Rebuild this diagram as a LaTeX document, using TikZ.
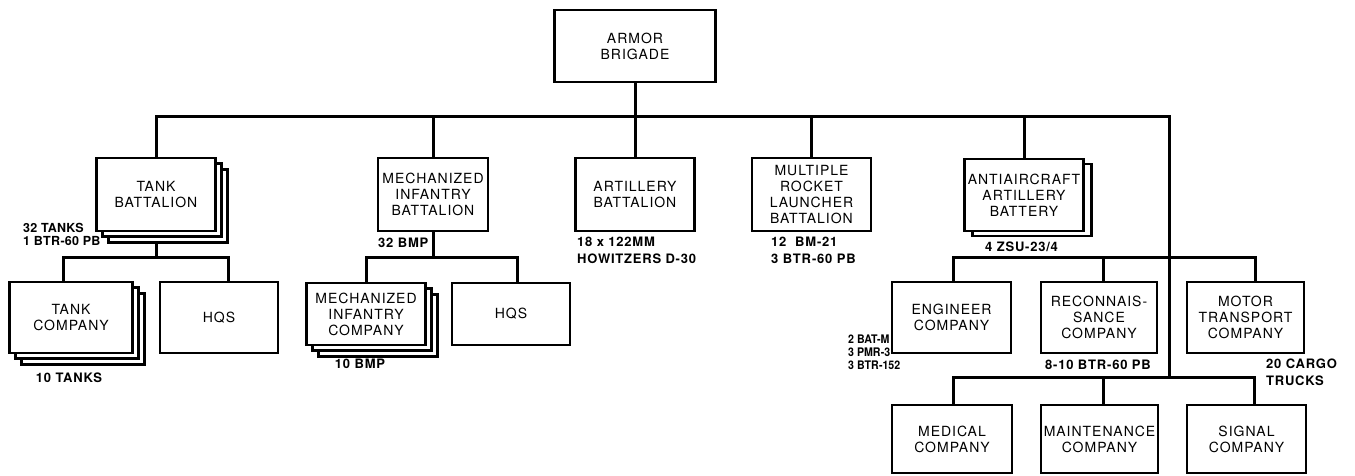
\documentclass[tikz,border=0pt]{standalone}
\usepackage{fontspec}
\setmainfont{TeX Gyre Heros}
\newfontfamily\boxfont[LetterSpace=7]{TeX Gyre Heros}
\newfontfamily\labfont[LetterSpace=6]{TeX Gyre Heros}
\newfontfamily\labfontb[LetterSpace=2]{TeX Gyre Heros}
\newfontfamily\labfontc[FakeStretch=0.9]{TeX Gyre Heros}
\usetikzlibrary{shadows,backgrounds}
\tikzset{
  unit/.style={draw, line width=2.4pt, fill=white, align=center, inner sep=0pt,
    font={\boxfont\fontsize{14}{16}\selectfont},
    minimum width=119pt, minimum height=71pt},
  stacktwo/.style={
    copy shadow={shadow xshift=12pt, shadow yshift=-11.5pt, line width=2.4pt},
    copy shadow={shadow xshift=6pt, shadow yshift=-5.5pt, line width=2.4pt}},
  stackone/.style={copy shadow={shadow xshift=8pt, shadow yshift=-5pt, line width=2.4pt}},
  lab/.style={inner sep=0pt, anchor=north west, align=left,
    font={\labfont\bfseries\fontsize{13}{#1}\selectfont}},
  lab/.default=16,
  wire/.style={line width=3pt},
}
\begin{document}
\begin{tikzpicture}[x=1pt,y=-1pt]
\useasboundingbox (0,0) rectangle (1355,475);

% top
\node[unit, minimum width=161pt, minimum height=72pt] (brig) at (635,46) {ARMOR\\BRIGADE};

% battalions
\node[unit, minimum height=73pt, stacktwo] (tb) at (156,194.5) {TANK\\BATTALION};
\node[unit, minimum width=110pt, minimum height=73pt] (mib) at (433,194.5) {MECHANIZED\\INFANTRY\\BATTALION};
\node[unit, minimum height=73pt] (art) at (635,194.5) {ARTILLERY\\BATTALION};
\node[unit, minimum height=73pt] (mrl) at (811.5,194.5) {MULTIPLE\\ROCKET\\LAUNCHER\\BATTALION};
\node[unit, minimum height=72pt, stackone] (aa) at (1024,195) {ANTIAIRCRAFT\\ARTILLERY\\BATTERY};

% companies under battalions
\node[unit, minimum width=123pt, stacktwo] (tc) at (71,317.5) {TANK\\COMPANY};
\node[unit, minimum width=118pt] (hqa) at (219,317.5) {HQS};
\node[unit, minimum height=62pt, stacktwo] (mic) at (366,314) {MECHANIZED\\INFANTRY\\COMPANY};
\node[unit, minimum width=118pt, minimum height=62pt] (hqb) at (511,314) {HQS};

% brigade companies
\node[unit] (eng) at (951.5,317.5) {ENGINEER\\COMPANY};
\node[unit, minimum width=116pt] (rec) at (1099,317.5) {RECONNAIS-\\SANCE\\COMPANY};
\node[unit, minimum width=117pt] (mot) at (1245.5,317.5) {MOTOR\\TRANSPORT\\COMPANY};
\node[unit, minimum width=120pt, minimum height=68pt] (med) at (952,439) {MEDICAL\\COMPANY};
\node[unit, minimum width=117pt, minimum height=68pt] (mai) at (1099.5,439) {MAINTENANCE\\COMPANY};
\node[unit, minimum height=68pt] (sig) at (1246.5,439) {SIGNAL\\COMPANY};

% connectors
\coordinate (rv) at (1169,116);
\coordinate (rvend) at (1169,377);
\coordinate (tbus) at (156,257);
\coordinate (mbus) at (433,257);
\coordinate (rbus) at (1169,257);
\begin{scope}[on background layer]
\draw[wire] (brig.south) -- (brig.south |- rv);
\draw[wire] (tb.north) |- (rv) -- (rvend);
\draw[wire] (mib.north) -- (mib.north |- rv);
\draw[wire] (art.north) -- (art.north |- rv);
\draw[wire] (mrl.north) -- (mrl.north |- rv);
\draw[wire] (aa.north) -- (aa.north |- rv);

\draw[wire] (tb.south) -- (tbus);
\draw[wire] ([xshift=-8pt]tc.north) |- ([xshift=9pt]hqa.north |- tbus) -- ([xshift=9pt]hqa.north);

\draw[wire] (mib.south) -- (mbus);
\draw[wire] (mic.north) |- ([xshift=6pt]hqb.north |- mbus) -- ([xshift=6pt]hqb.north);

\draw[wire] ([xshift=1.5pt]eng.north) |- ([xshift=9.5pt]mot.north |- rbus) -- ([xshift=9.5pt]mot.north);
\draw[wire] ([xshift=4pt]rec.north) -- ([xshift=4pt]rec.north |- rbus);

\draw[wire] ([xshift=1pt]med.north) |- ([xshift=8pt]sig.north |- rvend) -- ([xshift=8pt]sig.north);
\draw[wire] ([xshift=3.5pt]mai.north) -- ([xshift=3.5pt]mai.north |- rvend);
\end{scope}

% labels
\node[lab, font={\labfontb\bfseries\fontsize{12.5}{12.7}\selectfont}] (ltb) at (23,223) {32 TANKS\\1 BTR-60 PB};
\node[lab] (lmib) at (378,238) {32 BMP};
\node[lab=17] (lart) at (577,237) {18 x 122MM\\HOWITZERS D-30};
\node[lab=17] (lmrl) at (771,237) {12~~BM-21\\3 BTR-60 PB};
\node[lab] (laa) at (985,242) {4 ZSU-23/4};
\node[lab, font={\labfontc\bfseries\fontsize{11.8}{13}\selectfont}] (leng) at (848,335) {2 BAT-M\\3 PMR-3\\3 BTR-152};
\node[lab] (lrec) at (1045,360) {8-10 BTR-60 PB};
\node[lab=17] (lmot) at (1266,359) {20 CARGO\\TRUCKS};
\node[lab, anchor=north] (ltc) at (69,373) {10 TANKS};
\node[lab, anchor=north] (lmic) at (360,359) {10 BMP};
\end{tikzpicture}
\end{document}
